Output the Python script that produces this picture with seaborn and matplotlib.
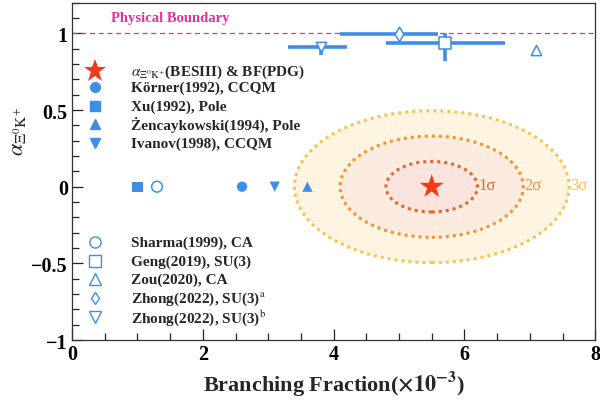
import matplotlib
matplotlib.use("Agg")
import matplotlib.pyplot as plt
from matplotlib.patches import Ellipse
from matplotlib.ticker import MultipleLocator
import seaborn as sns

# ---------------- data ----------------
besiii_bf = 5.5
besiii_alpha = 0.0
sigma_bf = 0.70
sigma_alpha = 0.165
sigma_levels = [1, 2, 3]
sigma_labels = ["1σ", "2σ", "3σ"]

# theory predictions with alpha = 0 (no alpha prediction)
zero_names = ["Xu(1992), Pole", "Sharma(1999), CA", "Körner(1992), CCQM",
              "Ivanov(1998), CCQM", "Żencaykowski(1994), Pole"]
zero_bf = [1.0, 1.3, 2.6, 3.1, 3.6]
zero_alpha = [0.0, 0.0, 0.0, 0.0, 0.0]

# theory predictions with alpha
pred_names = ["Zhong(2022), SU(3)b", "Zhong(2022), SU(3)a",
              "Geng(2019), SU(3)", "Zou(2020), CA"]
pred_bf = [3.8, 5.0, 5.7, 7.1]
pred_alpha = [0.91, 0.995, 0.94, 0.89]
pred_bf_lo = [0.5, 0.9, 0.9, 0.0]
pred_bf_hi = [0.4, 0.6, 0.92, 0.0]
pred_alpha_lo = [0.05, 0.0, 0.12, 0.0]
pred_alpha_hi = [0.03, 0.0, 0.06, 0.0]

boundary = 1.0

legend_top = [r"$\alpha_{\Xi^{0}\mathrm{K}^{+}}$(BESIII) & BF(PDG)", "Körner(1992), CCQM",
              "Xu(1992), Pole", "Żencaykowski(1994), Pole", "Ivanov(1998), CCQM"]
legend_bottom = ["Sharma(1999), CA", "Geng(2019), SU(3)", "Zou(2020), CA",
                 r"Zhong(2022), SU(3)$^{\mathrm{a}}$", r"Zhong(2022), SU(3)$^{\mathrm{b}}$"]

# ---------------- style ----------------
sns.set_theme(style="ticks")
plt.rcParams['font.family'] = ['Liberation Serif', 'DejaVu Serif']
plt.rcParams['mathtext.fontset'] = 'stix'

blue = "#3d8ee6"
red = "#f43a14"
c1 = "#e8642c"
c2 = "#f0962e"
c3 = "#f6c450"

fig = plt.figure(figsize=(6.0, 4.06), dpi=100)
ax = fig.add_axes([0.12, 0.16, 0.872, 0.831])

# ellipses
fills = ["#fbe4de", "#fcebdf", "#fdf4e2"]
lcols = [c1, c2, c3]
for i in [2, 1, 0]:
    n = sigma_levels[i]
    e = Ellipse((besiii_bf, besiii_alpha), 2 * n * sigma_bf, 2 * n * sigma_alpha,
                facecolor=fills[i], edgecolor='none', zorder=1)
    ax.add_patch(e)
for i in [2, 1, 0]:
    n = sigma_levels[i]
    e = Ellipse((besiii_bf, besiii_alpha), 2 * n * sigma_bf, 2 * n * sigma_alpha,
                facecolor='none', edgecolor=lcols[i], lw=2.2,
                linestyle=(0, (1, 1.3)), zorder=2)
    ax.add_patch(e)
    ax.text(besiii_bf + n * sigma_bf + 0.02, besiii_alpha + 0.01, sigma_labels[i],
            color=lcols[i], fontsize=12, ha='left', va='center', zorder=3)

# boundary
ax.axhline(boundary, color="#e0309a", lw=0.9, ls=(0, (4, 3)), zorder=2)
ax.text(0.6, 1.1, "Physical Boundary", color="#e0309a", fontsize=10.5,
        fontweight='bold', ha='left', va='center')

# BESIII star
sns.scatterplot(x=[besiii_bf], y=[besiii_alpha], marker='*', s=330,
                color=red, edgecolor='none', ax=ax, zorder=6)

# zero-alpha points
zero_markers = ['s', 'o', 'o', 'v', '^']
zero_filled = [True, False, True, True, True]
for xb, ya, mk, fl in zip(zero_bf, zero_alpha, zero_markers, zero_filled):
    if fl:
        sns.scatterplot(x=[xb], y=[ya], marker=mk, s=55, color=blue,
                        edgecolor='none', ax=ax, zorder=5)
    else:
        ax.scatter([xb], [ya], marker=mk, s=60, facecolors='none',
                   edgecolors=blue, linewidths=1.1, zorder=5)

# predictions with errors
pred_markers = ['v', 'd', 's', '^']
for i in range(len(pred_bf)):
    xerr = [[pred_bf_lo[i]], [pred_bf_hi[i]]]
    yerr = [[pred_alpha_lo[i]], [pred_alpha_hi[i]]]
    if pred_bf_lo[i] > 0 or pred_alpha_lo[i] > 0:
        ax.errorbar([pred_bf[i]], [pred_alpha[i]], xerr=xerr, yerr=yerr,
                    fmt='none', ecolor=blue, elinewidth=2.6, capsize=0, zorder=4)
    ms = 75 if pred_markers[i] == 's' else 55
    ax.scatter([pred_bf[i]], [pred_alpha[i]], marker=pred_markers[i], s=ms,
               facecolors='white', edgecolors=blue, linewidths=1.1, zorder=5)

# axes
ax.set_xlim(0, 8)
ax.set_ylim(-1, 1.2)
ax.xaxis.set_minor_locator(MultipleLocator(0.5))
ax.yaxis.set_minor_locator(MultipleLocator(0.1))
ax.tick_params(which='major', direction='in', length=8, width=0.9,
               labelsize=14.5, pad=3, colors="#222222", labelcolor='black')
ax.tick_params(which='minor', direction='in', length=5, width=0.9, colors="#222222")
ax.set_xticks([0, 2, 4, 6, 8])
ax.set_xticklabels(["0", "2", "4", "6", "8"], fontweight='bold')
ax.set_yticks([-1, -0.5, 0, 0.5, 1])
ax.set_yticklabels(["−1", "−0.5", "0", "0.5", "1"], fontweight='bold')
for sp in ax.spines.values():
    sp.set_linewidth(0.9)
    sp.set_color("#333333")

ax.set_xlabel(r"Branching Fraction($\mathbf{\times 10^{-3}}$)", fontsize=16,
              fontweight='bold', labelpad=3)
ax.set_ylabel(r"$\alpha_{\Xi^{0}\mathrm{K}^{+}}$", fontsize=16, labelpad=2)
ax.yaxis.set_label_coords(-0.085, 0.62)

# manual legends (axes-fraction positions)
mk_x = 0.044
tx_x = 0.113
top_rows = [0.797, 0.749, 0.693, 0.640, 0.584]
bot_rows = [0.290, 0.234, 0.181, 0.124, 0.068]
top_mk = [('*', True, 17), ('o', True, 7), ('s', True, 7), ('^', True, 7), ('v', True, 7)]
bot_mk = [('o', False, 8), ('s', False, 8), ('^', False, 8), ('d', False, 6), ('v', False, 8)]
for rows, mks, labels in [(top_rows, top_mk, legend_top), (bot_rows, bot_mk, legend_bottom)]:
    for yy, (m, fl, ms), lab in zip(rows, mks, labels):
        col = red if m == '*' else blue
        ax.plot([mk_x], [yy], ls='none', marker=m, markersize=ms,
                markerfacecolor=col if fl else 'white', markeredgecolor=col,
                markeredgewidth=0 if m == '*' else 1.0,
                transform=ax.transAxes, clip_on=False, zorder=7)
        ax.text(tx_x, yy, lab, transform=ax.transAxes, fontsize=11,
                fontweight='bold', ha='left', va='center', zorder=7)

fig.savefig("out.png", dpi=100)
